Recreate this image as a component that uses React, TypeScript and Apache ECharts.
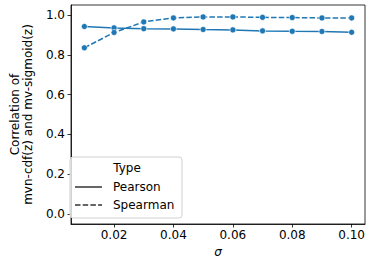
import React, { useEffect, useRef } from "react";
import * as echarts from "echarts";

const sigma = [0.01, 0.02, 0.03, 0.04, 0.05, 0.06, 0.07, 0.08, 0.09, 0.1];
const pearson = [0.942, 0.935, 0.931, 0.930, 0.927, 0.925, 0.920, 0.918, 0.917, 0.913];
const spearman = [0.835, 0.912, 0.965, 0.985, 0.990, 0.990, 0.988, 0.987, 0.985, 0.985];
const xTicks = [0.02, 0.04, 0.06, 0.08, 0.1];
const yTicks = [0, 0.2, 0.4, 0.6, 0.8, 1.0];
const seriesNames = ["Pearson", "Spearman"];
const legendTitle = "Type";
const yLabel = "Correlation of\nmvn-cdf(z) and mv-sigmoid(z)";
const xLabel = "σ";

const FONT = "DejaVu Sans";
const BLUE = "#1f77b4";

export default function App() {
  const ref = useRef<HTMLDivElement>(null);
  useEffect(() => {
    if (!ref.current) return;
    const chart = echarts.init(ref.current, undefined, { renderer: "svg" });
    const dashes = [5.5, 2.2];
    const lx = 70, ly = 157;
    chart.setOption({
      animation: false,
      backgroundColor: "#fff",
      textStyle: { fontFamily: FONT },
      grid: {
        left: 65,
        right: 8,
        top: 5,
        bottom: 43,
        show: true,
        borderColor: "#000",
        borderWidth: 0.8,
        backgroundColor: "transparent",
      },
      xAxis: {
        type: "value",
        min: 0.0055,
        max: 0.1045,
        name: xLabel,
        nameLocation: "middle",
        nameGap: 15,
        nameTextStyle: { fontFamily: FONT, fontSize: 12, fontStyle: "italic", color: "#000" },
        axisLine: { show: true, onZero: false, lineStyle: { color: "#000", width: 0.8 } },
        axisTick: { show: true, length: 3.5, customValues: xTicks, lineStyle: { color: "#000", width: 0.8 } },
        axisLabel: {
          customValues: xTicks,
          margin: 5,
          fontFamily: FONT,
          fontSize: 12,
          color: "#000",
          formatter: (v: number) => v.toFixed(2),
        },
        splitLine: { show: false },
      },
      yAxis: {
        type: "value",
        min: -0.05,
        max: 1.05,
        name: yLabel,
        nameLocation: "middle",
        nameRotate: 90,
        nameGap: 37,
        nameTextStyle: { fontFamily: FONT, fontSize: 12, color: "#000", lineHeight: 13, align: "center" },
        axisLine: { show: true, onZero: false, lineStyle: { color: "#000", width: 0.8 } },
        axisTick: { show: true, length: 3.5, customValues: yTicks, lineStyle: { color: "#000", width: 0.8 } },
        axisLabel: {
          customValues: yTicks,
          margin: 6,
          fontFamily: FONT,
          fontSize: 12,
          color: "#000",
          formatter: (v: number) => v.toFixed(1),
        },
        splitLine: { show: false },
      },
      series: [
        {
          name: seriesNames[0],
          type: "line",
          data: sigma.map((x, i) => [x, pearson[i]]),
          symbol: "circle",
          symbolSize: 6,
          itemStyle: { color: BLUE, borderColor: "#fff", borderWidth: 0.6 },
          lineStyle: { color: BLUE, width: 1.5 },
          z: 3,
        },
        {
          name: seriesNames[1],
          type: "line",
          data: sigma.map((x, i) => [x, spearman[i]]),
          symbol: "circle",
          symbolSize: 6,
          itemStyle: { color: BLUE, borderColor: "#fff", borderWidth: 0.6 },
          lineStyle: { color: BLUE, width: 1.5, type: dashes },
          z: 3,
        },
      ],
      graphic: [
        {
          type: "rect",
          shape: { x: lx, y: ly, width: 112, height: 61, r: 3 },
          style: { fill: "rgba(255,255,255,0.8)", stroke: "#d0d0d0", lineWidth: 1 },
          z: 10,
        },
        {
          type: "text",
          x: 127,
          y: 168,
          style: { text: legendTitle, font: `12px '${FONT}'`, fill: "#000", align: "center", verticalAlign: "middle" },
          z: 11,
        },
        {
          type: "line",
          shape: { x1: 75, y1: 187, x2: 102, y2: 187 },
          style: { stroke: "#333", lineWidth: 1.5 },
          z: 11,
        },
        {
          type: "text",
          x: 113,
          y: 187,
          style: { text: seriesNames[0], font: `12px '${FONT}'`, fill: "#000", align: "left", verticalAlign: "middle" },
          z: 11,
        },
        {
          type: "line",
          shape: { x1: 75, y1: 205, x2: 102, y2: 205 },
          style: { stroke: "#333", lineWidth: 1.5, lineDash: dashes },
          z: 11,
        },
        {
          type: "text",
          x: 113,
          y: 205,
          style: { text: seriesNames[1], font: `12px '${FONT}'`, fill: "#000", align: "left", verticalAlign: "middle" },
          z: 11,
        },
      ],
    });
    return () => chart.dispose();
  }, []);
  return <div ref={ref} style={{ width: 373, height: 267, position: "absolute", left: 0, top: 0 }} />;
}
